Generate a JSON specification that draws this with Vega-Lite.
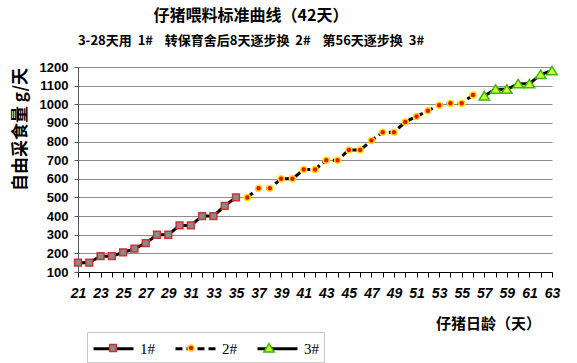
{
  "$schema": "https://vega.github.io/schema/vega-lite/v6.json",
  "width": 474,
  "height": 205,
  "autosize": {"type": "none"},
  "padding": {"left": 78, "top": 67, "right": 25, "bottom": 91},
  "background": "white",
  "title": {
    "text": "仔猪喂料标准曲线（42天）",
    "subtitle": "3-28天用\u00a0\u00a01#\u00a0\u00a0\u00a0\u00a0转保育舍后8天逐步换\u00a0\u00a02#\u00a0\u00a0\u00a0\u00a0第56天逐步换\u00a0\u00a03#",
    "anchor": "middle",
    "dx": -64,
    "offset": 13,
    "font": "Noto Sans CJK SC",
    "fontSize": 16,
    "fontWeight": "bold",
    "color": "#000",
    "subtitleFont": "Noto Sans CJK SC",
    "subtitleFontSize": 13,
    "subtitleFontWeight": "bold",
    "subtitleColor": "#000",
    "subtitlePadding": 11
  },
  "data": {
    "values": [
      {"day": 21, "value": 150, "series": "1#"},
      {"day": 22, "value": 150, "series": "1#"},
      {"day": 23, "value": 185, "series": "1#"},
      {"day": 24, "value": 185, "series": "1#"},
      {"day": 25, "value": 205, "series": "1#"},
      {"day": 26, "value": 225, "series": "1#"},
      {"day": 27, "value": 255, "series": "1#"},
      {"day": 28, "value": 300, "series": "1#"},
      {"day": 29, "value": 300, "series": "1#"},
      {"day": 30, "value": 350, "series": "1#"},
      {"day": 31, "value": 350, "series": "1#"},
      {"day": 32, "value": 400, "series": "1#"},
      {"day": 33, "value": 400, "series": "1#"},
      {"day": 34, "value": 455, "series": "1#"},
      {"day": 35, "value": 500, "series": "1#"},
      {"day": 36, "value": 500, "series": "2#"},
      {"day": 37, "value": 550, "series": "2#"},
      {"day": 38, "value": 550, "series": "2#"},
      {"day": 39, "value": 600, "series": "2#"},
      {"day": 40, "value": 600, "series": "2#"},
      {"day": 41, "value": 650, "series": "2#"},
      {"day": 42, "value": 650, "series": "2#"},
      {"day": 43, "value": 700, "series": "2#"},
      {"day": 44, "value": 700, "series": "2#"},
      {"day": 45, "value": 755, "series": "2#"},
      {"day": 46, "value": 755, "series": "2#"},
      {"day": 47, "value": 805, "series": "2#"},
      {"day": 48, "value": 850, "series": "2#"},
      {"day": 49, "value": 850, "series": "2#"},
      {"day": 50, "value": 905, "series": "2#"},
      {"day": 51, "value": 935, "series": "2#"},
      {"day": 52, "value": 965, "series": "2#"},
      {"day": 53, "value": 995, "series": "2#"},
      {"day": 54, "value": 1005, "series": "2#"},
      {"day": 55, "value": 1005, "series": "2#"},
      {"day": 56, "value": 1050, "series": "2#"},
      {"day": 57, "value": 1045, "series": "3#"},
      {"day": 58, "value": 1080, "series": "3#"},
      {"day": 59, "value": 1080, "series": "3#"},
      {"day": 60, "value": 1110, "series": "3#"},
      {"day": 61, "value": 1110, "series": "3#"},
      {"day": 62, "value": 1160, "series": "3#"},
      {"day": 63, "value": 1180, "series": "3#"}
    ]
  },
  "encoding": {
    "x": {
      "field": "day",
      "type": "quantitative",
      "scale": {"domain": [21, 63], "nice": false, "zero": false},
      "axis": {
        "values": [21,22,23,24,25,26,27,28,29,30,31,32,33,34,35,36,37,38,39,40,41,42,43,44,45,46,47,48,49,50,51,52,53,54,55,56,57,58,59,60,61,62,63],
        "labelExpr": "(datum.value % 2 == 1) ? datum.label : ''",
        "labelOverlap": false,
        "labelFlush": false,
        "grid": false,
        "domainColor": "#000",
        "domainWidth": 1,
        "tickColor": "#000",
        "tickSize": 5,
        "labelPadding": 9,
        "labelFont": "Liberation Sans Narrow, Liberation Sans, Arial",
        "labelFontSize": 14,
        "labelFontWeight": "bold",
        "labelFontStyle": "italic",
        "labelColor": "#000",
        "title": "仔猪日龄（天）",
        "titleX": 410,
        "titleY": 51,
        "titleAlign": "center",
        "titleBaseline": "middle",
        "titleFont": "Noto Sans CJK SC",
        "titleFontSize": 15,
        "titleFontWeight": "bold",
        "titleColor": "#000"
      }
    },
    "y": {
      "field": "value",
      "type": "quantitative",
      "scale": {"domain": [100, 1200], "nice": false, "zero": false},
      "axis": {
        "values": [100,200,300,400,500,600,700,800,900,1000,1100,1200],
        "format": "d",
        "grid": true,
        "gridColor": "#8c8c8c",
        "gridWidth": 1,
        "domainColor": "#555",
        "tickColor": "#555",
        "tickSize": 4,
        "labelPadding": 6,
        "labelFont": "Liberation Sans Narrow, Liberation Sans, Arial",
        "labelFontSize": 13,
        "labelFontWeight": "bold",
        "labelColor": "#000",
        "title": "自由采食量 g/天",
        "titleX": -58,
        "titleY": 62,
        "titleAngle": 270,
        "titleAlign": "center",
        "titleBaseline": "middle",
        "titleFont": "Noto Sans CJK SC",
        "titleFontSize": 17,
        "titleFontWeight": "bold",
        "titleColor": "#000"
      }
    }
  },
  "layer": [
    {
      "mark": {"type": "line", "strokeWidth": 3},
      "encoding": {
        "color": {
          "field": "series",
          "type": "nominal",
          "scale": {"range": ["#000000", "#000000", "#000000"]},
          "legend": {
            "orient": "none", "legendX": 9, "legendY": 265, "direction": "horizontal",
            "title": null, "symbolType": "M-2,0H2", "symbolSize": 400, "symbolStrokeWidth": 3,
            "symbolOffset": 10,
            "strokeColor": "#c8c8c8", "padding": 5, "labelFont": "Liberation Serif",
            "labelFontSize": 15, "labelColor": "#000", "labelOffset": 15, "columnPadding": 14
          }
        },
        "strokeDash": {
          "field": "series",
          "type": "nominal",
          "scale": {"range": [[1, 0], [7, 4], [1, 0]]},
          "legend": {
            "orient": "none", "legendX": 9, "legendY": 265, "direction": "horizontal",
            "title": null, "symbolType": "M-2,0H2", "symbolSize": 400, "symbolStrokeWidth": 3,
            "symbolOffset": 10,
            "strokeColor": "#c8c8c8", "padding": 5, "labelFont": "Liberation Serif",
            "labelFontSize": 15, "labelColor": "#000", "labelOffset": 15, "columnPadding": 14
          }
        }
      }
    },
    {
      "mark": {"type": "point", "filled": true, "size": 400, "strokeWidth": 1.5, "opacity": 1},
      "encoding": {
        "shape": {
          "field": "series",
          "type": "nominal",
          "scale": {
            "domain": ["1#", "2#", "3#"],
            "range": [
              "M-2,0M2,0M-0.34,-0.34H0.34V0.34H-0.34Z",
              "M-2,0M2,0M0.3,0A0.3,0.3 0 1,1 -0.3,0A0.3,0.3 0 1,1 0.3,0Z",
              "M-2,0M2,0M0,-0.44L0.52,0.4L-0.52,0.4Z"
            ]
          },
          "legend": {
            "orient": "none", "legendX": 9, "legendY": 265, "direction": "horizontal",
            "title": null, "symbolSize": 400, "symbolStrokeWidth": 1.5, "symbolOffset": 10,
            "padding": 5, "labelFont": "Liberation Serif",
            "labelFontSize": 15, "labelOpacity": 0, "labelOffset": 15, "columnPadding": 14
          }
        },
        "fill": {
          "field": "series",
          "type": "nominal",
          "scale": {"domain": ["1#", "2#", "3#"], "range": ["#8a8a8a", "#ee1111", "#ccff33"]},
          "legend": {
            "orient": "none", "legendX": 9, "legendY": 265, "direction": "horizontal",
            "title": null, "symbolSize": 400, "symbolStrokeWidth": 1.5, "symbolOffset": 10,
            "padding": 5, "labelFont": "Liberation Serif",
            "labelFontSize": 15, "labelOpacity": 0, "labelOffset": 15, "columnPadding": 14
          }
        },
        "stroke": {
          "field": "series",
          "type": "nominal",
          "scale": {"domain": ["1#", "2#", "3#"], "range": ["#cc3333", "#ffdd00", "#33bb00"]},
          "legend": {
            "orient": "none", "legendX": 9, "legendY": 265, "direction": "horizontal",
            "title": null, "symbolSize": 400, "symbolStrokeWidth": 1.5, "symbolOffset": 10,
            "padding": 5, "labelFont": "Liberation Serif",
            "labelFontSize": 15, "labelOpacity": 0, "labelOffset": 15, "columnPadding": 14
          }
        }
      }
    }
  ],
  "config": {"view": {"stroke": null}}
}
